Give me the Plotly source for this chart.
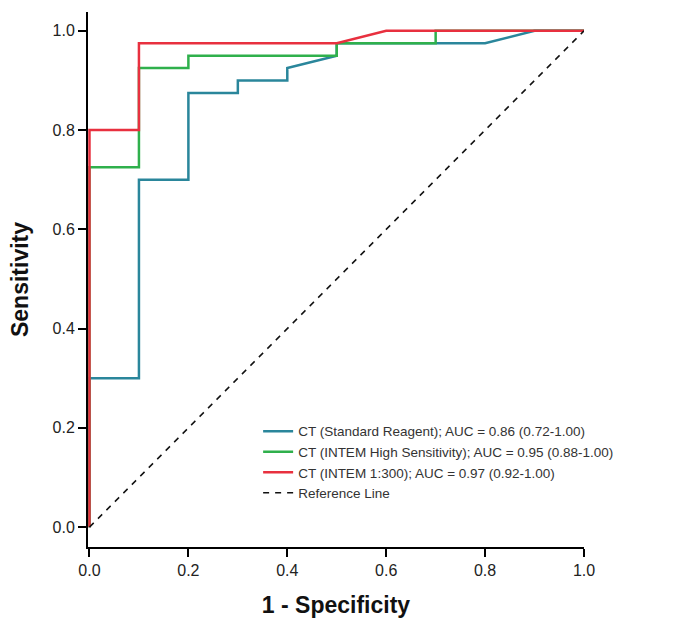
import plotly.graph_objects as go

# ROC step curves (1 - specificity, sensitivity)
std_fpr = [0.0, 0.0, 0.1, 0.1, 0.2, 0.2, 0.3, 0.3, 0.4, 0.4, 0.5, 0.5, 0.8, 0.9, 1.0]
std_tpr = [0.0, 0.3, 0.3, 0.7, 0.7, 0.875, 0.875, 0.9, 0.9, 0.925, 0.95, 0.975, 0.975, 1.0, 1.0]

hs_fpr = [0.0, 0.0, 0.1, 0.1, 0.2, 0.2, 0.5, 0.5, 0.7, 0.7, 1.0]
hs_tpr = [0.0, 0.725, 0.725, 0.925, 0.925, 0.95, 0.95, 0.975, 0.975, 1.0, 1.0]

i300_fpr = [0.0, 0.0, 0.1, 0.1, 0.5, 0.6, 1.0]
i300_tpr = [0.0, 0.8, 0.8, 0.975, 0.975, 1.0, 1.0]

ref_x = [0.0, 1.0]
ref_y = [0.0, 1.0]

names = [
    "CT (Standard Reagent); AUC = 0.86 (0.72-1.00)",
    "CT (INTEM High Sensitivity); AUC = 0.95 (0.88-1.00)",
    "CT (INTEM 1:300); AUC = 0.97 (0.92-1.00)",
    "Reference Line",
]
colors = ["#2a869b", "#2fb04c", "#e8303f", "#111111"]

fig = go.Figure()
for xs, ys, nm, col in [(std_fpr, std_tpr, names[0], colors[0]),
                        (hs_fpr, hs_tpr, names[1], colors[1]),
                        (i300_fpr, i300_tpr, names[2], colors[2])]:
    fig.add_trace(go.Scatter(x=xs, y=ys, mode="lines", name=nm,
                             line=dict(color=col, width=2.5)))
fig.add_trace(go.Scatter(x=ref_x, y=ref_y, mode="lines", name=names[3],
                         line=dict(color=colors[3], width=1.5, dash="6px,6px")))

fig.update_layout(
    width=689, height=630,
    margin=dict(l=88, r=105, t=12, b=83),
    paper_bgcolor="white", plot_bgcolor="white",
    font=dict(family="Liberation Sans, Arial, sans-serif", color="#222"),
    showlegend=True,
    legend=dict(x=0.343, y=0.245, xanchor="left", yanchor="top",
                bgcolor="rgba(0,0,0,0)", font=dict(size=13.5, color="#333"),
                tracegroupgap=0, itemwidth=30),
    xaxis=dict(range=[-0.003, 1], tickvals=[0, 0.2, 0.4, 0.6, 0.8, 1.0],
               ticktext=["0.0", "0.2", "0.4", "0.6", "0.8", "1.0"],
               showgrid=False, zeroline=False, showline=True, linecolor="black",
               linewidth=2, ticks="outside", ticklen=8, tickwidth=1.5,
               tickcolor="black", tickfont=dict(size=16, color="#222"),
               layer="below traces",
               title=dict(text="<b>1 - Specificity</b>", font=dict(size=23, color="#111"),
                          standoff=19)),
    yaxis=dict(range=[-0.04, 1.038], tickvals=[0, 0.2, 0.4, 0.6, 0.8, 1.0],
               ticktext=["0.0", "0.2", "0.4", "0.6", "0.8", "1.0"],
               showgrid=False, zeroline=False, showline=True, linecolor="black",
               linewidth=2, ticks="outside", ticklen=8, tickwidth=1.5,
               tickcolor="black", tickfont=dict(size=16, color="#222"),
               layer="below traces",
               title=dict(text="<b>Sensitivity</b>", font=dict(size=23, color="#111"),
                          standoff=17)),
)

fig.write_html("out.html")
